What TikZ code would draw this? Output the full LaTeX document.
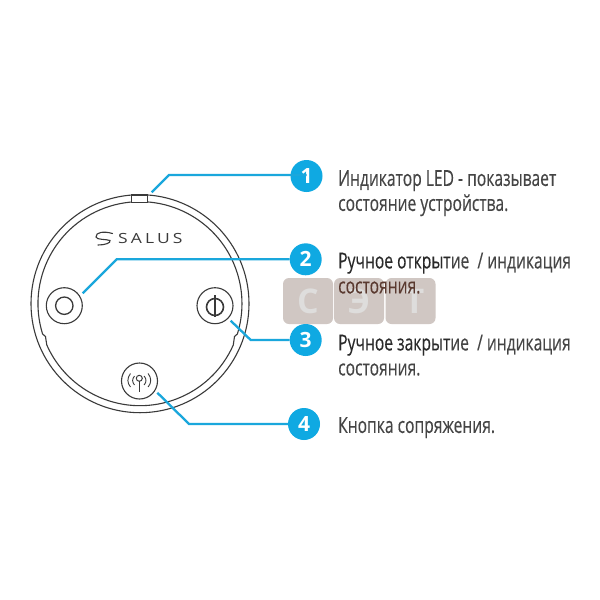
\documentclass[tikz,border=0pt]{standalone}
\usepackage{fontspec}
\setmainfont[FakeStretch=0.71,FakeBold=0.25]{Open Sans}
\newfontfamily\wmfont{Open Sans}
\newfontfamily\logofont[LetterSpace=22,FakeStretch=1.25]{Open Sans}
\definecolor{cyanline}{HTML}{1AA7DC}
\definecolor{badgeblue}{HTML}{0FA9E2}
\definecolor{inkgrey}{HTML}{454545}
\definecolor{inkdark}{HTML}{2A2A2A}
\definecolor{devline}{HTML}{3A3A3A}
\definecolor{wmbg}{HTML}{D0C7C3}
\definecolor{wmfg}{HTML}{DEDDDC}
\definecolor{wmtext}{HTML}{5A3A30}
\tikzset{
 x=1pt,y=-1pt,
 device/.style={draw=devline,line width=1.1pt,fill=none},
 btn/.style={circle,draw=devline,line width=1.1pt,minimum size=36pt,inner sep=0pt},
 badge/.style={circle,fill=badgeblue,minimum size=32pt,inner sep=0pt,text=white,font=\wmfont\bfseries\fontsize{21}{21}\selectfont},
 link/.style={draw=cyanline,line width=2.3pt},
 caption/.style={anchor=north west,inner sep=0pt,align=left,text=inkgrey,font=\fontsize{22}{25}\selectfont},
 wmbox/.style={fill=wmbg,rounded corners=6pt,minimum width=50pt,minimum height=46pt,inner sep=0pt,text=wmfg,font=\wmfont\bfseries\fontsize{34}{34}\selectfont},
}
\begin{document}
\begin{tikzpicture}
\useasboundingbox (0,0) rectangle (600,600);
\fill[white] (0,0) rectangle (600,600);
% watermark
\node[wmbox] (wa) at (308,301) {С};
\node[wmbox] (wb) at (359,301) {Э};
\node[wmbox] (wc) at (410.5,301) {\hspace{8pt}Т};
% device
\draw[device] (140,303.7) circle (109);
\draw[device] (233.3,345) arc[start angle=23.9,end angle=156.1,radius=102] -- (46,340) -- (45.5,336.5) -- (42.6,334) arc[start angle=162.7,end angle=377.3,radius=102] -- (234.5,336.5) -- (234,340) -- cycle;
\node[device,draw,minimum width=15.6pt,minimum height=7.7pt,inner sep=0pt,fill=white] (led) at (139.5,198.8) {};
% logo
\node[inner sep=0pt,anchor=base west,text=devline,font=\logofont\fontsize{14}{14}\selectfont] (logo) at (118,243) {SALUS};
\draw[devline,line width=1.1pt,line cap=round] (112.5,233.5) .. controls (104,231) and (95.5,232) .. (96,237) .. controls (96.5,240) and (106,239) .. (110,240.5) .. controls (111,243) and (105,245) .. (98,245);
% buttons
\node[btn] (bl) at (64.3,305.7) {};
\draw[device,line width=1.3pt] (bl.center) circle (8.7);
\node[btn] (br) at (215,305.7) {};
\draw[device,line width=1.6pt] (215,307) circle (8.5);
\draw[device,line width=1.6pt] (215,295) -- (215,317);
\node[btn] (bb) at (139.5,381) {};
\draw[device,line width=1pt] (139.3,378.3) circle (3);
\draw[device,line width=1.1pt] (139.3,381.3) -- (139.3,392);
\draw[device,line width=0.9pt] (134.5,376) .. controls (132,379) and (132,382) .. (134.5,385);
\draw[device,line width=0.9pt] (130.5,373.5) .. controls (127,378) and (127,383) .. (130.5,387);
\draw[device,line width=0.9pt] (144.1,376) .. controls (146.6,379) and (146.6,382) .. (144.1,385);
\draw[device,line width=0.9pt] (148.1,373.5) .. controls (151.6,378) and (151.6,383) .. (148.1,387);
% badges
\node[badge] (n1) at (306.5,176) {1};
\node[badge] (n2) at (305.7,259.3) {2};
\node[badge] (n3) at (305.7,340) {3};
\node[badge] (n4) at (304,424) {4};
% connectors
\coordinate (c1) at (151.7,192.3);
\coordinate (k1) at (169,175);
\coordinate (c2) at (82.7,293.3);
\coordinate (k2) at (116.7,259.3);
\coordinate (c3) at (230.7,320.7);
\coordinate (k3) at (250.7,340);
\coordinate (c4) at (157.3,392.7);
\coordinate (k4) at (189,424);
\draw[link] (c1) -- (k1) -- (n1.center |- k1);
\draw[link] (c2) -- (k2) -- (n2);
\draw[link] (c3) -- (k3) -- (n3);
\draw[link] (c4) -- (k4) -- (n4);
% captions
\node[caption] (t1) at (338,170) {Индикатор LED - показывает\\состояние устройства.};
\node[caption] (t2) at (338,252.5) {\textcolor{inkdark}{Ручное открыт}ие \ / индикация\\\textcolor{wmtext}{состояния.}};
\node[caption] (t3) at (338,334.5) {\textcolor{inkdark}{Ручное закрыт}ие \ / индикация\\состояния.};
\node[caption] (t4) at (338,417) {Кнопка сопряжения.};
\end{tikzpicture}
\end{document}
